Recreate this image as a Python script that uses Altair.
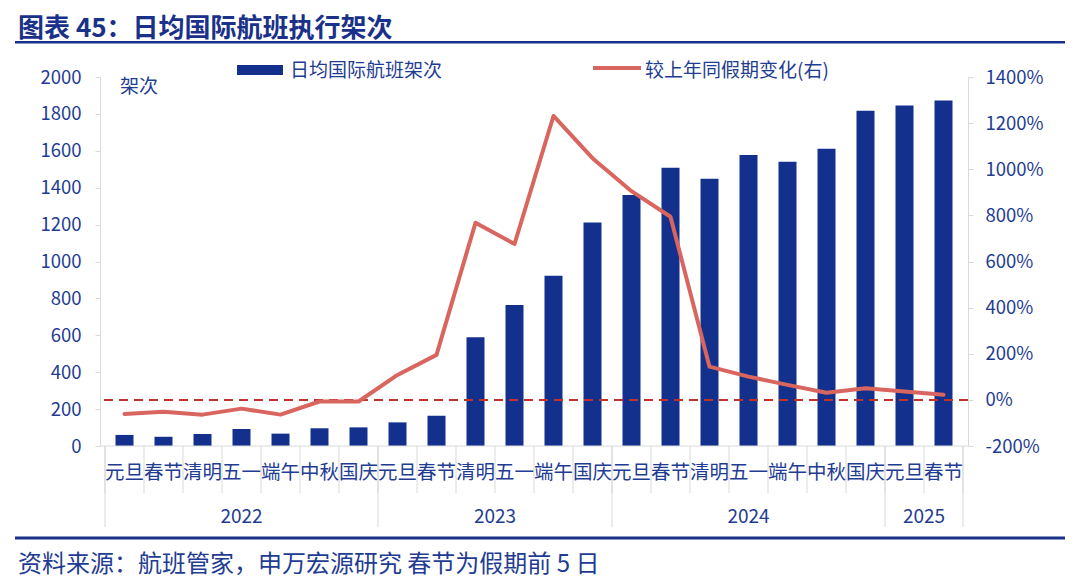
import altair as alt
import pandas as pd

# ---- data ----
years = ["2022"] * 7 + ["2023"] * 6 + ["2024"] * 7 + ["2025"] * 2
holidays = ["元旦", "春节", "清明", "五一", "端午", "中秋", "国庆",
            "元旦", "春节", "清明", "五一", "端午", "国庆",
            "元旦", "春节", "清明", "五一", "端午", "中秋", "国庆",
            "元旦", "春节"]
flights = [60, 50, 65, 92, 67, 96, 101, 128, 164, 589, 764, 923, 1212,
           1360, 1508, 1449, 1577, 1541, 1611, 1817, 1846, 1872]
yoy = [-61, -51, -64, -38, -64, -7, -7, 108, 195, 768, 676, 1231, 1048,
       905, 794, 144, 101, 65, 31, 50, 36, 22]
left_ticks = [0, 200, 400, 600, 800, 1000, 1200, 1400, 1600, 1800, 2000]
right_ticks = [-200, 0, 200, 400, 600, 800, 1000, 1200, 1400]

title_text = "图表 45：日均国际航班执行架次"
source_text = "资料来源：航班管家，申万宏源研究 春节为假期前 5 日"
bar_name = "日均国际航班架次"
line_name = "较上年同假期变化(右)"
unit_text = "架次"

# ---- styling ----
FONT = "Noto Sans CJK SC"
TXT = "#1f3c93"
TITLE_C = "#1a318a"
BAR_C = "#13308c"
LINE_C = "#d9665e"
DASH_C = "#c0322b"
GRID_C = "#d9d9d9"
W, H = 868, 369

n = len(holidays)
df = pd.DataFrame({"idx": list(range(n)), "year": years, "holiday": holidays,
                   "flights": flights, "yoy": yoy})

# separators
cat_seps = pd.DataFrame({"pos": [i - 0.5 for i in range(n + 1)]})
year_order = []
for y in years:
    if y not in year_order:
        year_order.append(y)
bounds = [-0.5]
mids = []
for y in year_order:
    idxs = [i for i, yy in enumerate(years) if yy == y]
    mids.append((idxs[0] + idxs[-1]) / 2)
    bounds.append(idxs[-1] + 0.5)
year_seps = pd.DataFrame({"pos": bounds})
year_lab = pd.DataFrame({"year": year_order, "mid": mids})

xs = alt.Scale(domain=[-0.5, n - 0.5], nice=False, zero=False)
X = lambda f: alt.X(f, scale=xs, axis=None)

bars = alt.Chart(df).mark_bar(size=18, color=BAR_C).encode(
    x=X("idx:Q"),
    y=alt.Y("flights:Q",
            scale=alt.Scale(domain=[0, 2000], nice=False),
            axis=alt.Axis(values=left_ticks, title=None, grid=False, format="d",
                          labelFontSize=18.5, labelColor=TXT, labelFont=FONT,
                          domainColor=GRID_C, tickColor=GRID_C, tickSize=5,
                          labelPadding=14)),
)

zero_df = pd.DataFrame({"zero": [0]})
dashed = alt.Chart(zero_df).mark_rule(color=DASH_C, strokeWidth=2,
                                      strokeDash=[9, 6]).encode(
    y=alt.Y("zero:Q", scale=alt.Scale(domain=[-200, 1400], nice=False),
            axis=None)
)

line = alt.Chart(df).mark_line(color=LINE_C, strokeWidth=4,
                               strokeJoin="round", strokeCap="round").encode(
    x=X("idx:Q"),
    y=alt.Y("yoy:Q", scale=alt.Scale(domain=[-200, 1400], nice=False),
            axis=alt.Axis(values=right_ticks, orient="right", title=None,
                          grid=False, labelExpr="datum.value + '%'",
                          labelFontSize=18.5, labelColor=TXT, labelFont=FONT,
                          domainColor=GRID_C, tickColor=GRID_C, tickSize=5,
                          labelPadding=12)),
)

baseline = alt.Chart(zero_df).mark_rule(color=GRID_C, strokeWidth=1).encode(
    y=alt.value(H))

cat_rules = alt.Chart(cat_seps).mark_rule(color=GRID_C, strokeWidth=1).encode(
    x=X("pos:Q"), y=alt.value(H), y2=alt.value(H + 47))
year_rules = alt.Chart(year_seps).mark_rule(color=GRID_C, strokeWidth=1).encode(
    x=X("pos:Q"), y=alt.value(H), y2=alt.value(H + 81))

cat_text = alt.Chart(df).mark_text(font=FONT, fontSize=19.5, color=TXT,
                                   align="center", baseline="middle").encode(
    x=X("idx:Q"), y=alt.value(H + 27), text="holiday:N")
year_text = alt.Chart(year_lab).mark_text(font=FONT, fontSize=19, color=TXT,
                                          align="center", baseline="middle").encode(
    x=X("mid:Q"), y=alt.value(H + 71), text="year:N")

one = pd.DataFrame({"a": [0]})

leg_rect = alt.Chart(one).mark_rect(color=BAR_C).encode(
    x=alt.value(137), x2=alt.value(183), y=alt.value(-12), y2=alt.value(-2))
leg_rect_t = alt.Chart(one).mark_text(font=FONT, fontSize=19, color=TXT,
                                      align="left", baseline="middle",
                                      text=bar_name).encode(
    x=alt.value(190), y=alt.value(-6))
leg_line = alt.Chart(one).mark_rule(color=LINE_C, strokeWidth=4).encode(
    x=alt.value(493), x2=alt.value(541), y=alt.value(-9))
leg_line_t = alt.Chart(one).mark_text(font=FONT, fontSize=19, color=TXT,
                                      align="left", baseline="middle",
                                      text=line_name).encode(
    x=alt.value(545), y=alt.value(-6))
unit = alt.Chart(one).mark_text(font=FONT, fontSize=19, color=TXT,
                                align="left", baseline="middle",
                                text=unit_text).encode(
    x=alt.value(20), y=alt.value(10))

title = alt.Chart(one).mark_text(font=FONT, fontSize=26, fontWeight="bold",
                                 color=TITLE_C, align="left", baseline="middle",
                                 text=title_text).encode(
    x=alt.value(-82), y=alt.value(-48))

top_line = alt.Chart(one).mark_rect(color=TITLE_C).encode(
    x=alt.value(-85), x2=alt.value(965), y=alt.value(-36), y2=alt.value(-33.5))
bot_line = alt.Chart(one).mark_rect(color=TITLE_C).encode(
    x=alt.value(-85), x2=alt.value(965), y=alt.value(459.5), y2=alt.value(462.5))

source = alt.Chart(one).mark_text(font=FONT, fontSize=24, color=TXT,
                                  align="left", baseline="middle",
                                  text=source_text).encode(
    x=alt.value(-82), y=alt.value(488))

chart = alt.layer(
    bars, dashed, line, baseline, cat_rules, year_rules, cat_text, year_text,
    leg_rect, leg_rect_t, leg_line, leg_line_t, unit, title, top_line,
    bot_line, source
).resolve_scale(y="independent").properties(
    width=W, height=H,
    autosize=alt.AutoSizeParams(type="none"),
    padding={"left": 92, "top": 69, "right": 104, "bottom": 134},
    background="white",
).configure_view(stroke=None)

chart.save("out.html", embed_options={"renderer": "svg", "actions": False})
